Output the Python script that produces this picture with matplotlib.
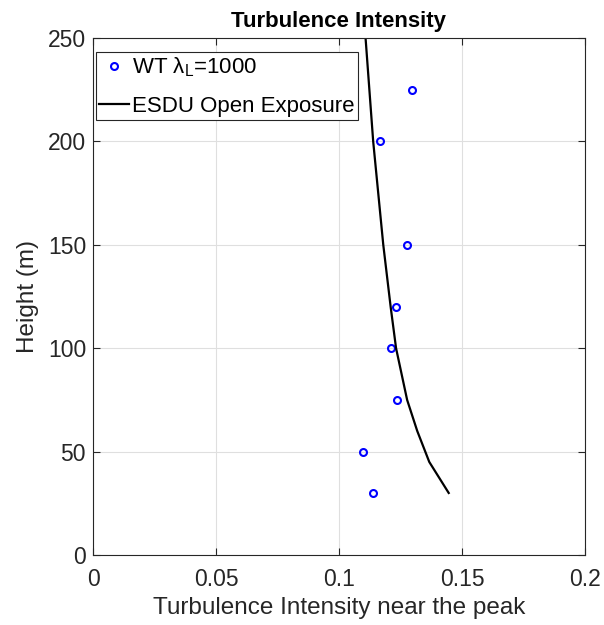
import matplotlib

matplotlib.use("Agg")
import matplotlib.pyplot as plt

# wind tunnel measurements
wt_ti = [0.1295, 0.1165, 0.1275, 0.1232, 0.1210, 0.1234, 0.1096, 0.1138]
wt_z = [225, 200, 150, 120, 100, 75, 50, 30]

# ESDU open exposure profile
esdu_ti = [0.1446, 0.1367, 0.1318, 0.1277, 0.1250, 0.1232, 0.1210, 0.1180, 0.1139, 0.1108]
esdu_z = [30, 45, 60, 75, 90, 100, 120, 150, 200, 250]

x_ticks = [0, 0.05, 0.1, 0.15, 0.2]
x_labels = ["0", "0.05", "0.1", "0.15", "0.2"]
y_ticks = [0, 50, 100, 150, 200, 250]

plt.rcParams["font.family"] = ["Liberation Sans", "DejaVu Sans"]
plt.rcParams["mathtext.fontset"] = "custom"
plt.rcParams["mathtext.it"] = "Liberation Sans:italic"
plt.rcParams["mathtext.rm"] = "Liberation Sans"

fig = plt.figure(figsize=(6.04, 6.25), dpi=100)
ax = fig.add_axes([0.154, 0.112, 0.8145, 0.8272])

ax.plot(wt_ti, wt_z, "o", mfc="none", mec="#0000ff", mew=1.5, ms=5,
        label="WT λ$_{\\rm L}$=1000")
ax.plot(esdu_ti, esdu_z, "-", color="black", lw=1.6, label="ESDU Open Exposure")

ax.set_xlim(0, 0.2)
ax.set_ylim(0, 250)
ax.set_xticks(x_ticks)
ax.set_xticklabels(x_labels)
ax.set_yticks(y_ticks)
ax.grid(True, color="#dfdfdf", lw=0.8)
ax.set_axisbelow(True)
ax.tick_params(direction="in", top=True, right=True, labelsize=16.5,
               colors="#262626", length=5, pad=5)
ax.tick_params(axis="x", pad=9)
for s in ax.spines.values():
    s.set_color("#262626")
    s.set_linewidth(0.8)

ax.set_xlabel("Turbulence Intensity near the peak", fontsize=17.5,
              color="#262626", labelpad=5)
ax.set_ylabel("Height (m)", fontsize=17.5, color="#262626", labelpad=6)
ax.set_title("Turbulence Intensity", fontsize=16, fontweight="bold", pad=8)

leg = ax.legend(loc="upper left", bbox_to_anchor=(0.006, 0.973), borderaxespad=0,
                fontsize=16, fancybox=False, framealpha=1, edgecolor="#262626",
                borderpad=0.15, handlelength=1.35, handletextpad=0.12,
                labelspacing=0.75)
leg.get_frame().set_linewidth(0.8)

fig.savefig("out.png", dpi=100)
